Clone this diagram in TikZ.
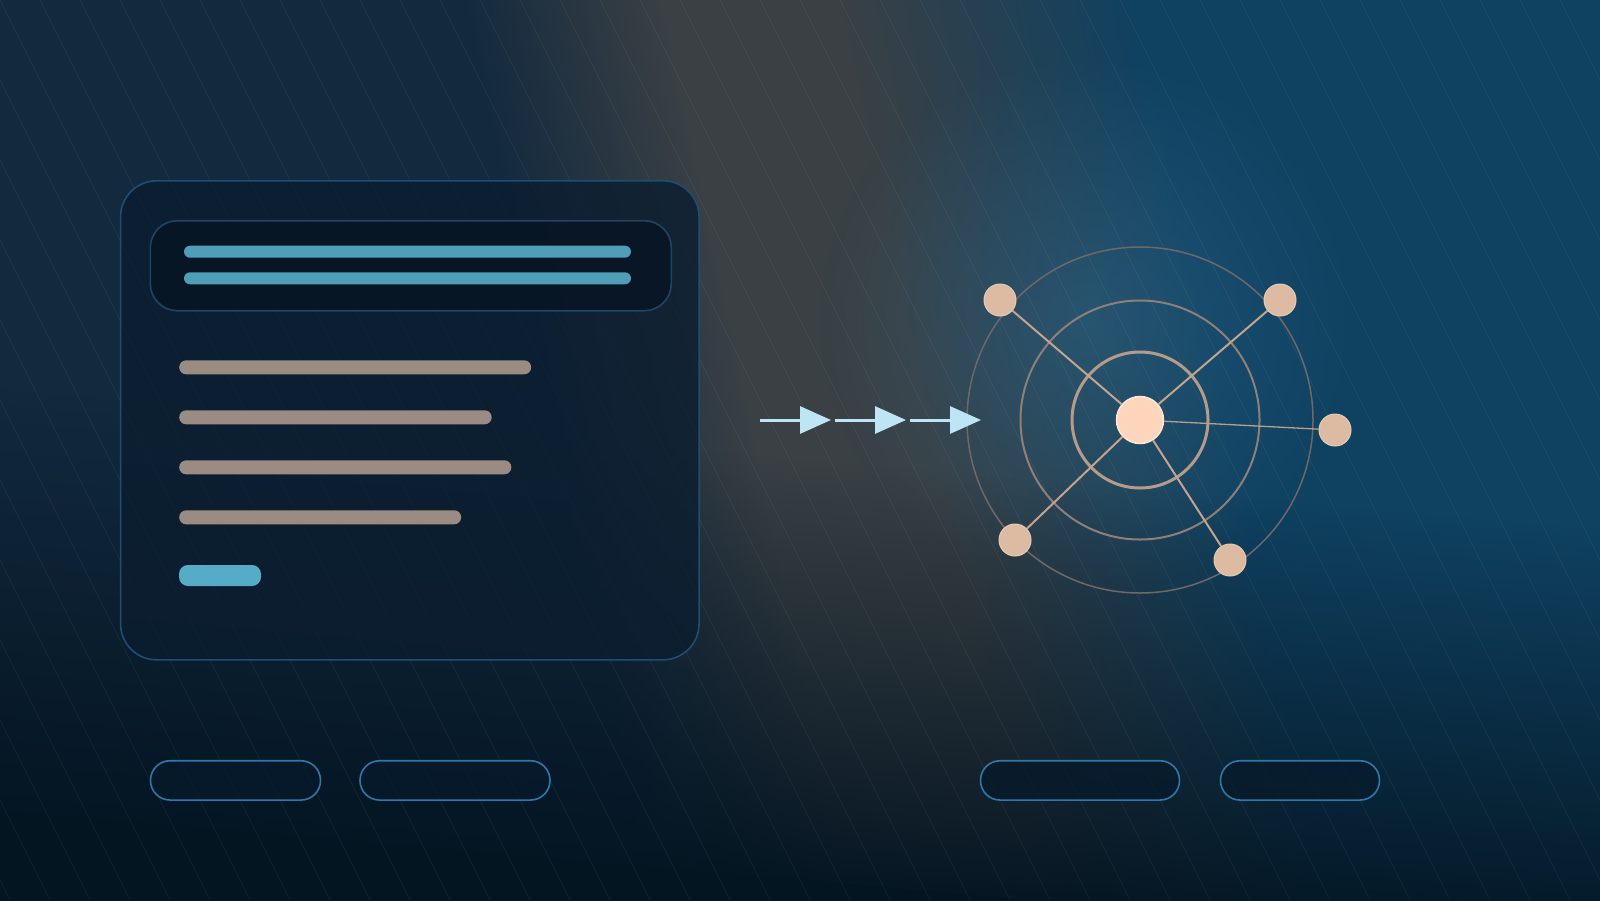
\documentclass[tikz,border=0pt]{standalone}
\usetikzlibrary{arrows.meta,fadings}
\definecolor{bgA}{HTML}{12293E}
\definecolor{bgG}{HTML}{3A4044}
\definecolor{bgB}{HTML}{0F4161}
\definecolor{bgD}{HTML}{041522}
\definecolor{glowC}{HTML}{2E6585}
\definecolor{cardFill}{HTML}{0B1D2F}
\definecolor{cardLine}{HTML}{1E4E74}
\definecolor{headFill}{HTML}{071523}
\definecolor{headLine}{HTML}{1E4565}
\definecolor{barBlue}{HTML}{4F9DB6}
\definecolor{barGray}{HTML}{9A8B83}
\definecolor{btnBlue}{HTML}{56ABC6}
\definecolor{arrowC}{HTML}{BDE5F5}
\definecolor{ringA}{HTML}{B59C8A}
\definecolor{ringB}{HTML}{8F7F77}
\definecolor{ringC}{HTML}{6E6866}
\definecolor{spokeC}{HTML}{C4A48E}
\definecolor{hubFill}{HTML}{FCD5BB}
\definecolor{hubLine}{HTML}{FEE8D8}
\definecolor{satFill}{HTML}{DCBBA2}
\definecolor{satLine}{HTML}{E8CBB5}
\definecolor{pillFill}{HTML}{071A2B}
\definecolor{pillLine}{HTML}{2F78A8}
\pgfdeclarehorizontalshading{bandshade}{100bp}{color(0bp)=(bgA); color(43bp)=(bgA); color(47.5bp)=(bgG); color(51.4bp)=(bgG); color(58bp)=(bgB); color(100bp)=(bgB)}
\tikzfading[name=fadetop, top color=transparent!100, bottom color=transparent!0]
\tikzfading[name=glowfade, inner color=transparent!0, outer color=transparent!100]
\begin{document}
\begin{tikzpicture}[x=1pt,y=-1pt,
  stripe/.style={white, opacity=0.05, line width=0.9pt},
  card/.style={draw=cardLine, line width=1.6pt, fill=cardFill, fill opacity=0.8, rounded corners=36pt, inner sep=0pt, outer sep=0pt},
  header/.style={draw=headLine, line width=1.6pt, fill=headFill, fill opacity=0.85, rounded corners=27pt, minimum width=521pt, minimum height=90pt, inner sep=0pt},
  bluebar/.style={fill=barBlue, rounded corners=6pt, minimum width=447pt, minimum height=12pt, inner sep=0pt},
  graybar/.style={fill=barGray, rounded corners=7pt, minimum height=14pt, inner sep=0pt, anchor=west},
  btn/.style={fill=btnBlue, rounded corners=9pt, minimum width=82pt, minimum height=21pt, inner sep=0pt},
  pill/.style={draw=pillLine, line width=1.6pt, fill=pillFill, fill opacity=0.8, rounded corners=19.5pt, minimum height=39.3pt, inner sep=0pt},
  flow/.style={arrowC, line width=3pt, -{Triangle[length=31pt,width=27pt]}},
  ringnode/.style={circle, inner sep=0pt, fill=none},
  spoke/.style={spokeC, line width=2pt},
  thinspoke/.style={spokeC!85!gray, line width=1.3pt},
  sat/.style={circle, fill=satFill, draw=satLine, line width=1pt, minimum size=32pt, inner sep=0pt},
  hubnode/.style={circle, fill=hubFill, draw=hubLine, line width=1.5pt, minimum size=47pt, inner sep=0pt}
]
\useasboundingbox (0,0) rectangle (1600,900);
% ---------- background ----------
\begin{scope}
\clip (0,0) rectangle (1600,900);
\fill[bgA] (0,0) rectangle (1600,900);
\begin{scope}[transform canvas={rotate around={12:(870,450)}}]
\shade[shading=bandshade] (-230,-700) rectangle (1970,1600);
\end{scope}
\fill[glowC, path fading=glowfade, fill opacity=0.55] (1090,320) circle (270);
\begin{scope}[transform canvas={rotate around={-5:(800,650)}}]
\fill[bgD, path fading=fadetop, fill opacity=0.97] (-300,460) rectangle (1900,880);
\fill[bgD] (-300,879) rectangle (1900,1100);
\end{scope}
\foreach \i in {-600,-560,...,1640} \draw[stripe] (\i,0) -- ({\i+450},900);
\end{scope}
% ---------- card ----------
\node[card, minimum width=578.5pt, minimum height=479pt] (card) at (409.8,420.3) {};
\node[header] (head) at (410.8,265.7) {};
\node[bluebar] (hb1) at (407.5,251.7) {};
\node[bluebar] (hb2) at (407.5,278.3) {};
\node[graybar, minimum width=352pt] (g1) at (179,367.3) {};
\node[graybar, minimum width=312.5pt] (g2) at (179,417.3) {};
\node[graybar, minimum width=332.2pt] (g3) at (179,467.3) {};
\node[graybar, minimum width=282pt] (g4) at (179,517.3) {};
\node[btn] (button) at (220,575.5) {};
% ---------- radial graph ----------
\coordinate (hubc) at (1140,420);
\node[ringnode, draw=ringC, line width=1.5pt, minimum size=346pt] (ring3) at (hubc) {};
\node[ringnode, draw=ringB, line width=2pt, minimum size=239pt] (ring2) at (hubc) {};
\node[ringnode, draw=ringA, line width=3pt, minimum size=136pt] (ring1) at (hubc) {};
\node[sat] (s1) at (1000,300) {};
\node[sat] (s2) at (1280,300) {};
\node[sat] (s3) at (1335,430) {};
\node[sat] (s4) at (1015,540) {};
\node[sat] (s5) at (1230,560) {};
\node[hubnode] (hub) at (hubc) {};
\draw[spoke] (hub) -- (s1);
\draw[spoke] (hub) -- (s2);
\draw[thinspoke] (hub) -- (s3);
\draw[spoke] (hub) -- (s4);
\draw[spoke] (hub) -- (s5);
% ---------- arrows ----------
\coordinate (a0) at (760,420);
\coordinate (a1) at (831,420);
\coordinate (b0) at (835,420);
\coordinate (b1) at (906,420);
\coordinate (c0) at (910,420);
\coordinate (c1) at (981,420);
\draw[flow] (a0) -- (a1);
\draw[flow] (b0) -- (b1);
\draw[flow] (c0) -- (c1);
% ---------- bottom pills ----------
\node[pill, minimum width=170pt] (p1) at (235.5,780.4) {};
\node[pill, minimum width=190pt] (p2) at (455,780.4) {};
\node[pill, minimum width=199pt] (p3) at (1080,780.4) {};
\node[pill, minimum width=159pt] (p4) at (1300,780.4) {};
\end{tikzpicture}
\end{document}
